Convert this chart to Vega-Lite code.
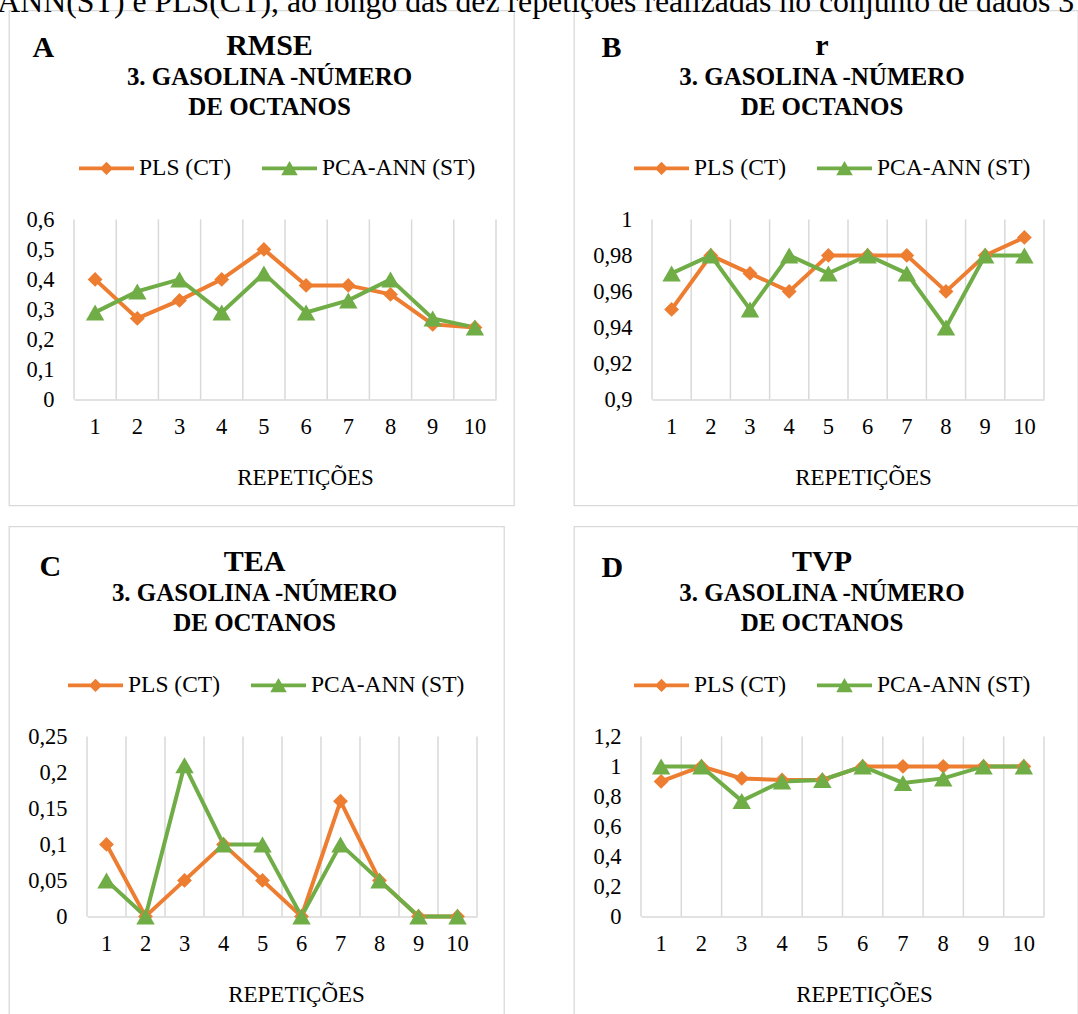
{
  "$schema": "https://vega.github.io/schema/vega-lite/v6.json",
  "padding": {"left": -3, "top": -13.6, "right": 0, "bottom": 0},
  "background": "white",
  "title": {"text": "ANN(ST) e PLS(CT), ao longo das dez repetições realizadas no conjunto de dados 3",
            "anchor": "start", "frame": "bounds", "dx": -11, "offset": -9.2, "baseline": "top",
            "font": "Liberation Serif", "fontSize": 31.8, "fontWeight": "normal", "color": "#000000"},
  "data": {
    "values": [
      {"m": "RMSE", "rep": 1, "serie": "PLS (CT)", "v": 0.40},
      {"m": "RMSE", "rep": 2, "serie": "PLS (CT)", "v": 0.27},
      {"m": "RMSE", "rep": 3, "serie": "PLS (CT)", "v": 0.33},
      {"m": "RMSE", "rep": 4, "serie": "PLS (CT)", "v": 0.40},
      {"m": "RMSE", "rep": 5, "serie": "PLS (CT)", "v": 0.50},
      {"m": "RMSE", "rep": 6, "serie": "PLS (CT)", "v": 0.38},
      {"m": "RMSE", "rep": 7, "serie": "PLS (CT)", "v": 0.38},
      {"m": "RMSE", "rep": 8, "serie": "PLS (CT)", "v": 0.35},
      {"m": "RMSE", "rep": 9, "serie": "PLS (CT)", "v": 0.25},
      {"m": "RMSE", "rep": 10, "serie": "PLS (CT)", "v": 0.24},
      {"m": "RMSE", "rep": 1, "serie": "PCA-ANN (ST)", "v": 0.29},
      {"m": "RMSE", "rep": 2, "serie": "PCA-ANN (ST)", "v": 0.36},
      {"m": "RMSE", "rep": 3, "serie": "PCA-ANN (ST)", "v": 0.40},
      {"m": "RMSE", "rep": 4, "serie": "PCA-ANN (ST)", "v": 0.29},
      {"m": "RMSE", "rep": 5, "serie": "PCA-ANN (ST)", "v": 0.42},
      {"m": "RMSE", "rep": 6, "serie": "PCA-ANN (ST)", "v": 0.29},
      {"m": "RMSE", "rep": 7, "serie": "PCA-ANN (ST)", "v": 0.33},
      {"m": "RMSE", "rep": 8, "serie": "PCA-ANN (ST)", "v": 0.40},
      {"m": "RMSE", "rep": 9, "serie": "PCA-ANN (ST)", "v": 0.27},
      {"m": "RMSE", "rep": 10, "serie": "PCA-ANN (ST)", "v": 0.24},
      {"m": "r", "rep": 1, "serie": "PLS (CT)", "v": 0.95},
      {"m": "r", "rep": 2, "serie": "PLS (CT)", "v": 0.98},
      {"m": "r", "rep": 3, "serie": "PLS (CT)", "v": 0.97},
      {"m": "r", "rep": 4, "serie": "PLS (CT)", "v": 0.96},
      {"m": "r", "rep": 5, "serie": "PLS (CT)", "v": 0.98},
      {"m": "r", "rep": 6, "serie": "PLS (CT)", "v": 0.98},
      {"m": "r", "rep": 7, "serie": "PLS (CT)", "v": 0.98},
      {"m": "r", "rep": 8, "serie": "PLS (CT)", "v": 0.96},
      {"m": "r", "rep": 9, "serie": "PLS (CT)", "v": 0.98},
      {"m": "r", "rep": 10, "serie": "PLS (CT)", "v": 0.99},
      {"m": "r", "rep": 1, "serie": "PCA-ANN (ST)", "v": 0.97},
      {"m": "r", "rep": 2, "serie": "PCA-ANN (ST)", "v": 0.98},
      {"m": "r", "rep": 3, "serie": "PCA-ANN (ST)", "v": 0.95},
      {"m": "r", "rep": 4, "serie": "PCA-ANN (ST)", "v": 0.98},
      {"m": "r", "rep": 5, "serie": "PCA-ANN (ST)", "v": 0.97},
      {"m": "r", "rep": 6, "serie": "PCA-ANN (ST)", "v": 0.98},
      {"m": "r", "rep": 7, "serie": "PCA-ANN (ST)", "v": 0.97},
      {"m": "r", "rep": 8, "serie": "PCA-ANN (ST)", "v": 0.94},
      {"m": "r", "rep": 9, "serie": "PCA-ANN (ST)", "v": 0.98},
      {"m": "r", "rep": 10, "serie": "PCA-ANN (ST)", "v": 0.98},
      {"m": "TEA", "rep": 1, "serie": "PLS (CT)", "v": 0.10},
      {"m": "TEA", "rep": 2, "serie": "PLS (CT)", "v": 0},
      {"m": "TEA", "rep": 3, "serie": "PLS (CT)", "v": 0.05},
      {"m": "TEA", "rep": 4, "serie": "PLS (CT)", "v": 0.10},
      {"m": "TEA", "rep": 5, "serie": "PLS (CT)", "v": 0.05},
      {"m": "TEA", "rep": 6, "serie": "PLS (CT)", "v": 0},
      {"m": "TEA", "rep": 7, "serie": "PLS (CT)", "v": 0.16},
      {"m": "TEA", "rep": 8, "serie": "PLS (CT)", "v": 0.05},
      {"m": "TEA", "rep": 9, "serie": "PLS (CT)", "v": 0},
      {"m": "TEA", "rep": 10, "serie": "PLS (CT)", "v": 0},
      {"m": "TEA", "rep": 1, "serie": "PCA-ANN (ST)", "v": 0.05},
      {"m": "TEA", "rep": 2, "serie": "PCA-ANN (ST)", "v": 0},
      {"m": "TEA", "rep": 3, "serie": "PCA-ANN (ST)", "v": 0.21},
      {"m": "TEA", "rep": 4, "serie": "PCA-ANN (ST)", "v": 0.10},
      {"m": "TEA", "rep": 5, "serie": "PCA-ANN (ST)", "v": 0.10},
      {"m": "TEA", "rep": 6, "serie": "PCA-ANN (ST)", "v": 0},
      {"m": "TEA", "rep": 7, "serie": "PCA-ANN (ST)", "v": 0.10},
      {"m": "TEA", "rep": 8, "serie": "PCA-ANN (ST)", "v": 0.05},
      {"m": "TEA", "rep": 9, "serie": "PCA-ANN (ST)", "v": 0},
      {"m": "TEA", "rep": 10, "serie": "PCA-ANN (ST)", "v": 0},
      {"m": "TVP", "rep": 1, "serie": "PLS (CT)", "v": 0.90},
      {"m": "TVP", "rep": 2, "serie": "PLS (CT)", "v": 1.0},
      {"m": "TVP", "rep": 3, "serie": "PLS (CT)", "v": 0.92},
      {"m": "TVP", "rep": 4, "serie": "PLS (CT)", "v": 0.91},
      {"m": "TVP", "rep": 5, "serie": "PLS (CT)", "v": 0.91},
      {"m": "TVP", "rep": 6, "serie": "PLS (CT)", "v": 1.0},
      {"m": "TVP", "rep": 7, "serie": "PLS (CT)", "v": 1.0},
      {"m": "TVP", "rep": 8, "serie": "PLS (CT)", "v": 1.0},
      {"m": "TVP", "rep": 9, "serie": "PLS (CT)", "v": 1.0},
      {"m": "TVP", "rep": 10, "serie": "PLS (CT)", "v": 1.0},
      {"m": "TVP", "rep": 1, "serie": "PCA-ANN (ST)", "v": 1.0},
      {"m": "TVP", "rep": 2, "serie": "PCA-ANN (ST)", "v": 1.0},
      {"m": "TVP", "rep": 3, "serie": "PCA-ANN (ST)", "v": 0.77},
      {"m": "TVP", "rep": 4, "serie": "PCA-ANN (ST)", "v": 0.90},
      {"m": "TVP", "rep": 5, "serie": "PCA-ANN (ST)", "v": 0.91},
      {"m": "TVP", "rep": 6, "serie": "PCA-ANN (ST)", "v": 1.0},
      {"m": "TVP", "rep": 7, "serie": "PCA-ANN (ST)", "v": 0.89},
      {"m": "TVP", "rep": 8, "serie": "PCA-ANN (ST)", "v": 0.92},
      {"m": "TVP", "rep": 9, "serie": "PCA-ANN (ST)", "v": 1.0},
      {"m": "TVP", "rep": 10, "serie": "PCA-ANN (ST)", "v": 1.0}
    ]
  },
  "spacing": 19,
  "resolve": {"scale": {"color": "independent"}},
  "vconcat": [
    {
      "spacing": 60,
      "bounds": "flush",
      "resolve": {"scale": {"color": "independent"}},
      "hconcat": [
        {
          "width": 505,
          "height": 495,
          "title": {"text": "RMSE", "subtitle": ["3. GASOLINA -NÚMERO", "DE OCTANOS"], "offset": -110, "dx": 8},
          "transform": [{"filter": "datum.m == 'RMSE'"}],
          "encoding": {
            "x": {"field": "rep", "type": "ordinal", "scale": {"type": "band", "range": [65, 487], "paddingInner": 0, "paddingOuter": 0},
                  "axis": {"offset": -106, "title": "REPETIÇÕES", "titleX": 296, "titleY": 85}},
            "y": {"field": "v", "type": "quantitative", "scale": {"domain": [0, 0.6], "range": [389, 209], "nice": false, "zero": false},
                  "axis": {"values": [0, 0.1, 0.2, 0.3, 0.4, 0.5, 0.6], "offset": -65, "title": "A", "titleX": -42, "titleY": 46}}
          },
          "layer": [
            {"transform": [{"filter": "datum.serie == 'PLS (CT)'"}], "mark": {"type": "rule", "color": "#d9d9d9", "strokeWidth": 1.5},
             "encoding": {"x": {"field": "rep", "type": "ordinal", "bandPosition": 0}, "y": {"datum": 0}, "y2": {"datum": 0.6}}},
            {"transform": [{"filter": "datum.serie == 'PLS (CT)' && datum.rep == 10"}], "mark": {"type": "rule", "color": "#d9d9d9", "strokeWidth": 1.5},
             "encoding": {"x": {"field": "rep", "type": "ordinal", "bandPosition": 1}, "y": {"datum": 0}, "y2": {"datum": 0.6}}},
            {"mark": {"type": "line", "strokeWidth": 4},
             "encoding": {"color": {"field": "serie", "type": "nominal", "scale": {"domain": ["PLS (CT)", "PCA-ANN (ST)"], "range": ["#ED7D31", "#70AD47"]},
               "legend": {"orient": "none", "legendX": 70, "legendY": 130.5, "symbolSize": 3025, "symbolStrokeWidth": 0,
                 "encode": {"symbols": {"update": {
                   "shape": {"signal": "datum.value === 'PLS (CT)' ? 'M-1,-0.065L1,-0.065L1,0.065L-1,0.065Z M0,-0.24L0.24,0L0,0.24L-0.24,0Z' : 'M-1,-0.065L1,-0.065L1,0.065L-1,0.065Z M0,-0.27L0.3,0.25L-0.3,0.25Z'"},
                   "fill": {"signal": "datum.value === 'PLS (CT)' ? '#ED7D31' : '#70AD47'"},
                   "fillOpacity": {"value": 1}, "opacity": {"value": 1}, "strokeWidth": {"value": 0}}}}}}}},
            {"transform": [{"filter": "datum.serie == 'PLS (CT)'"}],
             "mark": {"type": "point", "filled": true, "opacity": 1, "shape": "diamond", "size": 220},
             "encoding": {"color": {"field": "serie", "type": "nominal"}}},
            {"transform": [{"filter": "datum.serie == 'PCA-ANN (ST)'"}],
             "mark": {"type": "point", "filled": true, "opacity": 1, "shape": "triangle-up", "size": 340},
             "encoding": {"color": {"field": "serie", "type": "nominal"}}}
          ]
        },
        {
          "width": 504,
          "height": 495,
          "title": {"text": "r", "subtitle": ["3. GASOLINA -NÚMERO", "DE OCTANOS"], "offset": -110, "dx": -4},
          "transform": [{"filter": "datum.m == 'r'"}],
          "encoding": {
            "x": {"field": "rep", "type": "ordinal", "scale": {"type": "band", "range": [78, 470], "paddingInner": 0, "paddingOuter": 0},
                  "axis": {"offset": -106, "title": "REPETIÇÕES", "titleX": 289, "titleY": 85}},
            "y": {"field": "v", "type": "quantitative", "scale": {"domain": [0.9, 1], "range": [389, 209], "nice": false, "zero": false},
                  "axis": {"values": [0.9, 0.92, 0.94, 0.96, 0.98, 1], "offset": -78, "title": "B", "titleX": -51, "titleY": 46}}
          },
          "layer": [
            {"transform": [{"filter": "datum.serie == 'PLS (CT)'"}], "mark": {"type": "rule", "color": "#d9d9d9", "strokeWidth": 1.5},
             "encoding": {"x": {"field": "rep", "type": "ordinal", "bandPosition": 0}, "y": {"datum": 0.9}, "y2": {"datum": 1}}},
            {"transform": [{"filter": "datum.serie == 'PLS (CT)' && datum.rep == 10"}], "mark": {"type": "rule", "color": "#d9d9d9", "strokeWidth": 1.5},
             "encoding": {"x": {"field": "rep", "type": "ordinal", "bandPosition": 1}, "y": {"datum": 0.9}, "y2": {"datum": 1}}},
            {"mark": {"type": "line", "strokeWidth": 4},
             "encoding": {"color": {"field": "serie", "type": "nominal", "scale": {"domain": ["PLS (CT)", "PCA-ANN (ST)"], "range": ["#ED7D31", "#70AD47"]},
               "legend": {"orient": "none", "legendX": 60, "legendY": 130.5, "symbolSize": 3025, "symbolStrokeWidth": 0,
                 "encode": {"symbols": {"update": {
                   "shape": {"signal": "datum.value === 'PLS (CT)' ? 'M-1,-0.065L1,-0.065L1,0.065L-1,0.065Z M0,-0.24L0.24,0L0,0.24L-0.24,0Z' : 'M-1,-0.065L1,-0.065L1,0.065L-1,0.065Z M0,-0.27L0.3,0.25L-0.3,0.25Z'"},
                   "fill": {"signal": "datum.value === 'PLS (CT)' ? '#ED7D31' : '#70AD47'"},
                   "fillOpacity": {"value": 1}, "opacity": {"value": 1}, "strokeWidth": {"value": 0}}}}}}}},
            {"transform": [{"filter": "datum.serie == 'PLS (CT)'"}],
             "mark": {"type": "point", "filled": true, "opacity": 1, "shape": "diamond", "size": 220},
             "encoding": {"color": {"field": "serie", "type": "nominal"}}},
            {"transform": [{"filter": "datum.serie == 'PCA-ANN (ST)'"}],
             "mark": {"type": "point", "filled": true, "opacity": 1, "shape": "triangle-up", "size": 340},
             "encoding": {"color": {"field": "serie", "type": "nominal"}}}
          ]
        }
      ]
    },
    {
      "spacing": 70,
      "bounds": "flush",
      "resolve": {"scale": {"color": "independent"}},
      "hconcat": [
        {
          "width": 495,
          "height": 490,
          "title": {"text": "TEA", "subtitle": ["3. GASOLINA -NÚMERO", "DE OCTANOS"], "offset": -110, "dx": -2},
          "transform": [{"filter": "datum.m == 'TEA'"}],
          "encoding": {
            "x": {"field": "rep", "type": "ordinal", "scale": {"type": "band", "range": [78, 468], "paddingInner": 0, "paddingOuter": 0},
                  "axis": {"offset": -100, "title": "REPETIÇÕES", "titleX": 287, "titleY": 85}},
            "y": {"field": "v", "type": "quantitative", "scale": {"domain": [0, 0.25], "range": [390, 210], "nice": false, "zero": false},
                  "axis": {"values": [0, 0.05, 0.1, 0.15, 0.2, 0.25], "offset": -78, "title": "C", "titleX": -48, "titleY": 49}}
          },
          "layer": [
            {"transform": [{"filter": "datum.serie == 'PLS (CT)'"}], "mark": {"type": "rule", "color": "#d9d9d9", "strokeWidth": 1.5},
             "encoding": {"x": {"field": "rep", "type": "ordinal", "bandPosition": 0}, "y": {"datum": 0}, "y2": {"datum": 0.25}}},
            {"transform": [{"filter": "datum.serie == 'PLS (CT)' && datum.rep == 10"}], "mark": {"type": "rule", "color": "#d9d9d9", "strokeWidth": 1.5},
             "encoding": {"x": {"field": "rep", "type": "ordinal", "bandPosition": 1}, "y": {"datum": 0}, "y2": {"datum": 0.25}}},
            {"mark": {"type": "line", "strokeWidth": 4},
             "encoding": {"color": {"field": "serie", "type": "nominal", "scale": {"domain": ["PLS (CT)", "PCA-ANN (ST)"], "range": ["#ED7D31", "#70AD47"]},
               "legend": {"orient": "none", "legendX": 59, "legendY": 131.5, "symbolSize": 3025, "symbolStrokeWidth": 0,
                 "encode": {"symbols": {"update": {
                   "shape": {"signal": "datum.value === 'PLS (CT)' ? 'M-1,-0.065L1,-0.065L1,0.065L-1,0.065Z M0,-0.24L0.24,0L0,0.24L-0.24,0Z' : 'M-1,-0.065L1,-0.065L1,0.065L-1,0.065Z M0,-0.27L0.3,0.25L-0.3,0.25Z'"},
                   "fill": {"signal": "datum.value === 'PLS (CT)' ? '#ED7D31' : '#70AD47'"},
                   "fillOpacity": {"value": 1}, "opacity": {"value": 1}, "strokeWidth": {"value": 0}}}}}}}},
            {"transform": [{"filter": "datum.serie == 'PLS (CT)'"}],
             "mark": {"type": "point", "filled": true, "opacity": 1, "shape": "diamond", "size": 220},
             "encoding": {"color": {"field": "serie", "type": "nominal"}}},
            {"transform": [{"filter": "datum.serie == 'PCA-ANN (ST)'"}],
             "mark": {"type": "point", "filled": true, "opacity": 1, "shape": "triangle-up", "size": 340},
             "encoding": {"color": {"field": "serie", "type": "nominal"}}}
          ]
        },
        {
          "width": 504,
          "height": 490,
          "title": {"text": "TVP", "subtitle": ["3. GASOLINA -NÚMERO", "DE OCTANOS"], "offset": -110, "dx": -4},
          "transform": [{"filter": "datum.m == 'TVP'"}],
          "encoding": {
            "x": {"field": "rep", "type": "ordinal", "scale": {"type": "band", "range": [67, 470], "paddingInner": 0, "paddingOuter": 0},
                  "axis": {"offset": -100, "title": "REPETIÇÕES", "titleX": 290, "titleY": 85}},
            "y": {"field": "v", "type": "quantitative", "scale": {"domain": [0, 1.2], "range": [390, 210], "nice": false, "zero": false},
                  "axis": {"values": [0, 0.2, 0.4, 0.6, 0.8, 1, 1.2], "offset": -67, "title": "D", "titleX": -40, "titleY": 50}}
          },
          "layer": [
            {"transform": [{"filter": "datum.serie == 'PLS (CT)'"}], "mark": {"type": "rule", "color": "#d9d9d9", "strokeWidth": 1.5},
             "encoding": {"x": {"field": "rep", "type": "ordinal", "bandPosition": 0}, "y": {"datum": 0}, "y2": {"datum": 1.2}}},
            {"transform": [{"filter": "datum.serie == 'PLS (CT)' && datum.rep == 10"}], "mark": {"type": "rule", "color": "#d9d9d9", "strokeWidth": 1.5},
             "encoding": {"x": {"field": "rep", "type": "ordinal", "bandPosition": 1}, "y": {"datum": 0}, "y2": {"datum": 1.2}}},
            {"mark": {"type": "line", "strokeWidth": 4},
             "encoding": {"color": {"field": "serie", "type": "nominal", "scale": {"domain": ["PLS (CT)", "PCA-ANN (ST)"], "range": ["#ED7D31", "#70AD47"]},
               "legend": {"orient": "none", "legendX": 60, "legendY": 131.5, "symbolSize": 3025, "symbolStrokeWidth": 0,
                 "encode": {"symbols": {"update": {
                   "shape": {"signal": "datum.value === 'PLS (CT)' ? 'M-1,-0.065L1,-0.065L1,0.065L-1,0.065Z M0,-0.24L0.24,0L0,0.24L-0.24,0Z' : 'M-1,-0.065L1,-0.065L1,0.065L-1,0.065Z M0,-0.27L0.3,0.25L-0.3,0.25Z'"},
                   "fill": {"signal": "datum.value === 'PLS (CT)' ? '#ED7D31' : '#70AD47'"},
                   "fillOpacity": {"value": 1}, "opacity": {"value": 1}, "strokeWidth": {"value": 0}}}}}}}},
            {"transform": [{"filter": "datum.serie == 'PLS (CT)'"}],
             "mark": {"type": "point", "filled": true, "opacity": 1, "shape": "diamond", "size": 220},
             "encoding": {"color": {"field": "serie", "type": "nominal"}}},
            {"transform": [{"filter": "datum.serie == 'PCA-ANN (ST)'"}],
             "mark": {"type": "point", "filled": true, "opacity": 1, "shape": "triangle-up", "size": 340},
             "encoding": {"color": {"field": "serie", "type": "nominal"}}}
          ]
        }
      ]
    }
  ],
  "config": {
    "font": "Liberation Serif",
    "view": {"stroke": "#d9d9d9", "strokeWidth": 1.3},
    "locale": {"number": {"decimal": ",", "thousands": ".", "grouping": [3], "currency": ["", ""]}},
    "title": {"font": "Liberation Serif", "fontSize": 30, "fontWeight": "bold", "color": "#000000", "anchor": "middle", "frame": "group",
              "subtitleFont": "Liberation Serif", "subtitleFontSize": 25, "subtitleFontWeight": "bold", "subtitleColor": "#000000",
              "subtitleLineHeight": 30, "subtitlePadding": 4},
    "axis": {"labelFont": "Liberation Serif", "labelFontSize": 22.5, "labelColor": "#000000", "labelOverlap": false,
             "titleFont": "Liberation Serif", "titleFontSize": 23, "titleColor": "#000000", "titleFontWeight": "normal",
             "ticks": false, "tickSize": 0, "grid": false},
    "axisX": {"domain": true, "domainColor": "#d9d9d9", "domainWidth": 1.5, "labelAngle": 0, "labelPadding": 16,
              "titleAlign": "center", "titleBaseline": "alphabetic"},
    "axisY": {"domain": false, "labelPadding": 20, "format": "~g", "titleAngle": 0, "titleAlign": "left", "titleBaseline": "alphabetic",
              "titleFontSize": 30, "titleFontWeight": "bold"},
    "legend": {"title": null, "direction": "horizontal", "padding": 0, "offset": 0,
               "labelFont": "Liberation Serif", "labelFontSize": 23.5, "labelColor": "#000000", "labelOffset": 5, "columnPadding": 30}
  }
}
